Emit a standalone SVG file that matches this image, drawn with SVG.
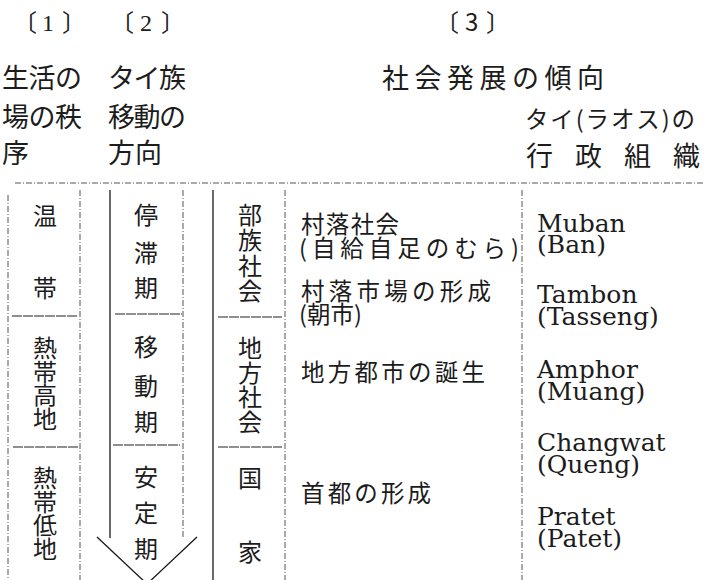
<svg xmlns="http://www.w3.org/2000/svg" width="706" height="580" viewBox="0 0 706 580">
<style>
.cjk{font-family:"Noto Sans CJK JP","Noto Sans CJK SC",sans-serif;fill:#1c1c1c}
.hd{font-size:27px}
.br{font-size:24px}
.cell{font-size:24px;text-anchor:middle}
.txt{font-size:23.5px}
.lat{font-family:"DejaVu Serif","Liberation Serif",serif;font-size:25px;fill:#1c1c1c}
.solid{stroke:#1a1a1a;stroke-width:1.3;fill:none}
.dash{stroke:#555;stroke-width:1;stroke-dasharray:6 2 1 2;fill:none}
.div{stroke:#222;stroke-width:1.2;stroke-dasharray:10 1;fill:none}
</style>
<rect width="706" height="580" fill="#ffffff"/>

<g id="headers">
  <text class="cjk br" y="31"><tspan x="13">〔</tspan><tspan x="42" style="font-family:'Liberation Serif',serif">1</tspan><tspan x="62">〕</tspan></text>
  <text class="cjk br" y="31"><tspan x="110">〔</tspan><tspan x="140" style="font-family:'Liberation Serif',serif">2</tspan><tspan x="161">〕</tspan></text>
  <text class="cjk br" y="31"><tspan x="435">〔</tspan><tspan x="465">3</tspan><tspan x="486">〕</tspan></text>
  <text class="cjk hd" x="2" y="88" textLength="80">生活の</text>
  <text class="cjk hd" x="2" y="127" textLength="80">場の秩</text>
  <text class="cjk hd" x="2" y="163">序</text>
  <text class="cjk hd" x="108" y="88" textLength="78">タイ族</text>
  <text class="cjk hd" x="108" y="127" textLength="78">移動の</text>
  <text class="cjk hd" x="108" y="163">方向</text>
  <text class="cjk hd" x="382" y="88" textLength="222">社会発展の傾向</text>
  <text class="cjk txt" x="525" y="128" textLength="170">タイ(ラオス)の</text>
  <text class="cjk hd" x="526 575 624 673" y="166">行政組織</text>
</g>

<g id="grid">
  <line class="dash" x1="15" y1="183" x2="705" y2="183"/>
  <line class="dash" x1="8" y1="195" x2="8" y2="580"/>
  <line class="dash" x1="80" y1="190" x2="80" y2="580"/>
  <line class="solid" x1="110" y1="190" x2="110" y2="538"/>
  <line class="dash" x1="183" y1="190" x2="183" y2="537"/>
  <line class="solid" x1="213" y1="190" x2="213" y2="580"/>
  <line class="dash" x1="285" y1="190" x2="285" y2="580"/>
  <line class="dash" x1="522" y1="190" x2="522" y2="580"/>
  <line class="div" x1="12" y1="316" x2="78" y2="316"/>
  <line class="div" x1="13" y1="447" x2="78" y2="447"/>
  <line class="div" x1="115" y1="314" x2="182" y2="314"/>
  <line class="div" x1="113" y1="445" x2="180" y2="445"/>
  <line class="div" x1="218" y1="317" x2="282" y2="317"/>
  <line class="div" x1="218" y1="447" x2="282" y2="447"/>
</g>

<g id="connectors">
  <polyline class="solid" points="97,537 147,584 197,537"/>
</g>

<g id="col1-temperate">
  <text class="cjk cell" x="45" y="225">温</text>
  <text class="cjk cell" x="45" y="297">帯</text>
</g>
<g id="col1-highland">
  <text class="cjk cell" x="45 45 45 45" y="357 381 404 428">熱帯高地</text>
</g>
<g id="col1-lowland">
  <text class="cjk cell" x="45 45 45 45" y="487 511 534 558">熱帯低地</text>
</g>

<g id="col2-stagnation">
  <text class="cjk cell" x="146 146 146" y="224 262 297">停滞期</text>
</g>
<g id="col2-migration">
  <text class="cjk cell" x="146 146 146" y="356 395 431">移動期</text>
</g>
<g id="col2-stable">
  <text class="cjk cell" x="146 146 146" y="486 522 558">安定期</text>
</g>

<g id="col3-tribal">
  <text class="cjk cell" x="250 250 250 250" y="224 249 275 300">部族社会</text>
</g>
<g id="col3-regional">
  <text class="cjk cell" x="250 250 250 250" y="357 382 406 431">地方社会</text>
</g>
<g id="col3-nation">
  <text class="cjk cell" x="250" y="487">国</text>
  <text class="cjk cell" x="250" y="561">家</text>
</g>

<g id="trend-village">
  <text class="cjk txt" x="301" y="233" textLength="98">村落社会</text>
  <text class="cjk txt" x="299" y="257" textLength="220">(自給自足のむら)</text>
</g>
<g id="trend-market">
  <text class="cjk txt" x="301" y="300" textLength="190">村落市場の形成</text>
  <text class="cjk txt" x="299" y="323">(朝市)</text>
</g>
<g id="trend-city">
  <text class="cjk txt" x="301" y="381" textLength="184">地方都市の誕生</text>
</g>
<g id="trend-capital">
  <text class="cjk txt" x="301" y="502" textLength="130">首都の形成</text>
</g>

<g id="admin-muban">
  <text class="lat" x="537" y="232">Muban</text>
  <text class="lat" x="537" y="253">(Ban)</text>
</g>
<g id="admin-tambon">
  <text class="lat" x="537" y="303">Tambon</text>
  <text class="lat" x="537" y="325">(Tasseng)</text>
</g>
<g id="admin-amphor">
  <text class="lat" x="537" y="378">Amphor</text>
  <text class="lat" x="537" y="400">(Muang)</text>
</g>
<g id="admin-changwat">
  <text class="lat" x="537" y="451">Changwat</text>
  <text class="lat" x="537" y="473">(Queng)</text>
</g>
<g id="admin-pratet">
  <text class="lat" x="537" y="525">Pratet</text>
  <text class="lat" x="537" y="547">(Patet)</text>
</g>
</svg>
